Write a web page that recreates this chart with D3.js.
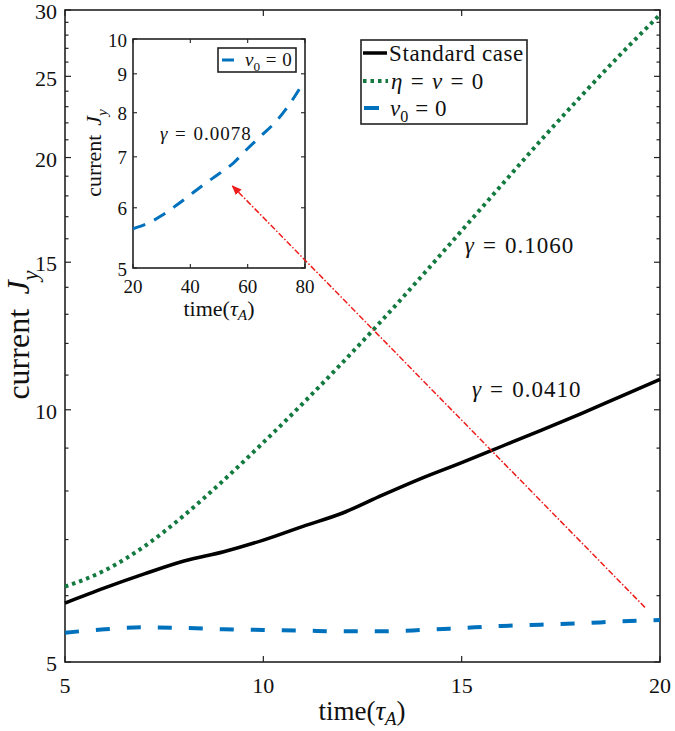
<!DOCTYPE html>
<html>
<head>
<meta charset="utf-8">
<script src="https://cdn.jsdelivr.net/npm/d3@7"></script>
<style>
  body { margin: 0; background: #fff; }
  svg text { font-family: "Liberation Serif", "Times New Roman", serif; fill: #111; }
</style>
</head>
<body>
<svg id="chart" width="675" height="731"></svg>
<script>
// ---------------- data ----------------
const time = [5,6,7,8,9,10,11,12,13,14,15,16,17,18,19,20];
const standardCase = [5.88,6.13,6.37,6.60,6.77,6.99,7.26,7.53,7.91,8.29,8.65,9.04,9.45,9.89,10.37,10.87];
const etaNuZero    = [6.15,6.43,6.87,7.48,8.24,9.14,10.18,11.39,12.80,14.45,16.36,18.53,20.98,23.65,26.54,29.62];
const v0Zero       = [5.42,5.47,5.50,5.49,5.47,5.46,5.45,5.44,5.44,5.46,5.49,5.52,5.54,5.56,5.59,5.61];

const insetTime = [20,25,30,35,40,45,50,55,60,65,70,75,79];
const insetV0   = [5.63,5.72,5.86,6.04,6.24,6.45,6.65,6.87,7.18,7.48,7.80,8.25,8.71];

const xTicks = [5,10,15,20];
const yTicks = [5,10,15,20,25,30];
const yMinorTicks = [6,7,8,9,11,12,13,14,16,17,18,19,21,22,23,24,26,27,28,29];
const insetXTicks = [20,40,60,80];
const insetYTicks = [5,6,7,8,9,10];

const rates = ["0.1060", "0.0410"];
const rateInset = "0.0078";
// arrow from (t, J) to (t, J)
const arrowFrom = [19.62, 5.81];
const arrowTo   = [9.22, 18.5];

// ---------------- helpers ----------------
const svg = d3.select("#chart");
const FONT = "Liberation Serif";
const col = { black: "#000", green: "#12793f", blue: "#0072bd", red: "#ee1c1c" };

// math-like text made of separate pieces
function math(parent, parts, fs, opt) {
  const g = parent.append("g");
  const inner = g.append("g");
  let cx = 0;
  const eqPad = opt.eqPad !== undefined ? opt.eqPad : 0.3;
  const sub = opt.sub !== undefined ? opt.sub : 0.27;
  parts.forEach(p => {
    const size = p.s ? fs * 0.7 : fs;
    if (p.eq) cx += fs * eqPad;
    if (p.pre) cx += fs * p.pre;
    const t = inner.append("text").attr("x", cx).attr("y", p.s ? fs * sub : 0)
      .attr("font-family", FONT)
      .attr("font-size", size).attr("font-style", p.i ? "italic" : "normal")
      .attr("letter-spacing", opt.ls || 0).text(p.t);
    cx += t.node().getComputedTextLength();
    if (p.eq) cx += fs * eqPad;
    if (p.post) cx += fs * p.post;
  });
  let dx = 0;
  if (opt.anchor === "middle") dx = -cx / 2; else if (opt.anchor === "end") dx = -cx;
  g.attr("transform", `translate(${opt.x},${opt.y})` + (opt.rotate ? ` rotate(${opt.rotate})` : ""));
  inner.attr("transform", `translate(${dx},0)`);
  return g;
}

function drawBox(g, x0, y0, x1, y1) {
  g.append("rect").attr("x", x0).attr("y", y0).attr("width", x1 - x0).attr("height", y1 - y0)
    .attr("fill", "#fff").attr("stroke", "#222").attr("stroke-width", 1.6);
}

// ---------------- main axes ----------------
const L = 65, R = 660, T = 10, B = 662;
const x = d3.scaleLinear().domain([5, 20]).range([L, R]);
const y = d3.scaleLog().domain([5, 30]).range([B, T]);

drawBox(svg, L, T, R, B);

const tickG = svg.append("g").attr("stroke", "#222").attr("stroke-width", 1.2);
xTicks.forEach(v => {
  tickG.append("line").attr("x1", x(v)).attr("x2", x(v)).attr("y1", B).attr("y2", B - 6);
  tickG.append("line").attr("x1", x(v)).attr("x2", x(v)).attr("y1", T).attr("y2", T + 6);
});
yTicks.forEach(v => {
  tickG.append("line").attr("x1", L).attr("x2", L + 6).attr("y1", y(v)).attr("y2", y(v));
  tickG.append("line").attr("x1", R).attr("x2", R - 6).attr("y1", y(v)).attr("y2", y(v));
});
yMinorTicks.forEach(v => {
  tickG.append("line").attr("x1", L).attr("x2", L + 3.5).attr("y1", y(v)).attr("y2", y(v));
  tickG.append("line").attr("x1", R).attr("x2", R - 3.5).attr("y1", y(v)).attr("y2", y(v));
});

svg.append("g").selectAll("text").data(xTicks).join("text")
  .attr("x", d => x(d)).attr("y", 693).attr("text-anchor", "middle")
  .attr("font-family", FONT).attr("font-size", 22).text(d => d);
svg.append("g").selectAll("text").data(yTicks).join("text")
  .attr("x", 57).attr("y", d => y(d) + 1.5).attr("dy", "0.35em").attr("text-anchor", "end")
  .attr("font-family", FONT).attr("font-size", 22).text(d => d);

// axis labels
math(svg, [{t: "time("}, {t: "τ", i: true}, {t: "A", i: true, s: true}, {t: ")"}], 27,
  {x: 362, y: 720, anchor: "middle", sub: 0.18});
math(svg, [{t: "current", post: 0.45}, {t: "J", i: true}, {t: "y", i: true, s: true}], 32,
  {x: 29, y: 335, anchor: "middle", rotate: -90});

// ---------------- series ----------------
const line = d3.line().x(d => x(d[0])).y(d => y(d[1])).curve(d3.curveMonotoneX);
svg.append("path").datum(time.map((t, i) => [t, v0Zero[i]]))
  .attr("d", line).attr("fill", "none").attr("stroke", col.blue)
  .attr("stroke-width", 4).attr("stroke-dasharray", "14,17");
svg.append("path").datum(time.map((t, i) => [t, standardCase[i]]))
  .attr("d", line).attr("fill", "none").attr("stroke", col.black).attr("stroke-width", 3.5);
svg.append("path").datum(time.map((t, i) => [t, etaNuZero[i]]))
  .attr("d", line).attr("fill", "none").attr("stroke", col.green)
  .attr("stroke-width", 4).attr("stroke-dasharray", "3.5,4");

// growth-rate annotations
function gamma(parent, px, py, val, fs) {
  return math(parent, [{t: "γ", i: true}, {t: "=", eq: true}, {t: val}], fs,
    {x: px, y: py, ls: 1, eqPad: 0.35});
}
gamma(svg, x(15.08), y(15.4), rates[0], 23);
gamma(svg, x(15.26), y(10.35), rates[1], 23);

// ---------------- main legend ----------------
const lg = svg.append("g");
drawBox(lg, 361, 40, 527, 124);
lg.append("line").attr("x1", 363).attr("x2", 387).attr("y1", 53).attr("y2", 53)
  .attr("stroke", col.black).attr("stroke-width", 3.5);
lg.append("line").attr("x1", 363).attr("x2", 388).attr("y1", 81).attr("y2", 81)
  .attr("stroke", col.green).attr("stroke-width", 4).attr("stroke-dasharray", "3.5,4");
lg.append("line").attr("x1", 364).attr("x2", 379).attr("y1", 108).attr("y2", 108)
  .attr("stroke", col.blue).attr("stroke-width", 4);
lg.append("text").attr("x", 389).attr("y", 61).attr("font-family", FONT).attr("font-size", 23)
  .attr("letter-spacing", 0.6).text("Standard case");
math(lg, [{t: "η", i: true}, {t: "=", eq: true}, {t: "ν", i: true}, {t: "=", eq: true}, {t: "0"}], 23,
  {x: 391, y: 89, eqPad: 0.36});
math(lg, [{t: "v", i: true}, {t: "0", s: true}, {t: "=", eq: true}, {t: "0"}], 23,
  {x: 390, y: 116, eqPad: 0.3});

// ---------------- inset ----------------
const iL = 133, iR = 305, iT = 39, iB = 268;
const ix = d3.scaleLinear().domain([20, 80]).range([iL, iR]);
const iy = d3.scaleLog().domain([5, 10]).range([iB, iT]);
const ig = svg.append("g");
drawBox(ig, iL, iT, iR, iB);
const itg = ig.append("g").attr("stroke", "#222").attr("stroke-width", 1.1);
insetXTicks.forEach(v => {
  itg.append("line").attr("x1", ix(v)).attr("x2", ix(v)).attr("y1", iB).attr("y2", iB - 4);
  itg.append("line").attr("x1", ix(v)).attr("x2", ix(v)).attr("y1", iT).attr("y2", iT + 4);
});
insetYTicks.forEach(v => {
  itg.append("line").attr("x1", iL).attr("x2", iL + 4).attr("y1", iy(v)).attr("y2", iy(v));
  itg.append("line").attr("x1", iR).attr("x2", iR - 4).attr("y1", iy(v)).attr("y2", iy(v));
});
ig.append("g").selectAll("text").data(insetXTicks).join("text")
  .attr("x", d => ix(d)).attr("y", 293).attr("text-anchor", "middle")
  .attr("font-family", FONT).attr("font-size", 19).text(d => d);
ig.append("g").selectAll("text").data(insetYTicks).join("text")
  .attr("x", 127).attr("y", d => iy(d) + 1).attr("dy", "0.35em").attr("text-anchor", "end")
  .attr("font-family", FONT).attr("font-size", 19).text(d => d);

math(ig, [{t: "time("}, {t: "τ", i: true}, {t: "A", i: true, s: true}, {t: ")"}], 22,
  {x: 219, y: 316, anchor: "middle", sub: 0.2});
math(ig, [{t: "current", post: 0.4}, {t: "J", i: true}, {t: "y", i: true, s: true}], 22,
  {x: 101, y: 153, anchor: "middle", rotate: -90});

const iline = d3.line().x(d => ix(d[0])).y(d => iy(d[1])).curve(d3.curveMonotoneX);
ig.append("path").datum(insetTime.map((t, i) => [t, insetV0[i]]))
  .attr("d", iline).attr("fill", "none").attr("stroke", col.blue)
  .attr("stroke-width", 3).attr("stroke-dasharray", "13,10");

gamma(ig, ix(29.4), iy(7.37), rateInset, 19);

// inset legend
drawBox(ig, 218, 48, 296, 72);
ig.append("line").attr("x1", 222).attr("x2", 234).attr("y1", 60).attr("y2", 60)
  .attr("stroke", col.blue).attr("stroke-width", 3);
math(ig, [{t: "v", i: true}, {t: "0", s: true}, {t: "=", eq: true}, {t: "0"}], 19,
  {x: 245, y: 66, eqPad: 0.3});

// ---------------- arrow ----------------
svg.append("defs").append("marker").attr("id", "ah")
  .attr("viewBox", "0 0 10 10").attr("refX", 9).attr("refY", 5)
  .attr("markerWidth", 10).attr("markerHeight", 10).attr("markerUnits", "userSpaceOnUse")
  .attr("orient", "auto")
  .append("path").attr("d", "M0,1 L10,5 L0,9 Z").attr("fill", col.red);
svg.append("line")
  .attr("x1", x(arrowFrom[0])).attr("y1", y(arrowFrom[1]))
  .attr("x2", x(arrowTo[0])).attr("y2", y(arrowTo[1]))
  .attr("stroke", col.red).attr("stroke-width", 1.5)
  .attr("stroke-dasharray", "6,2,1.5,2")
  .attr("marker-end", "url(#ah)");
</script>
</body>
</html>
